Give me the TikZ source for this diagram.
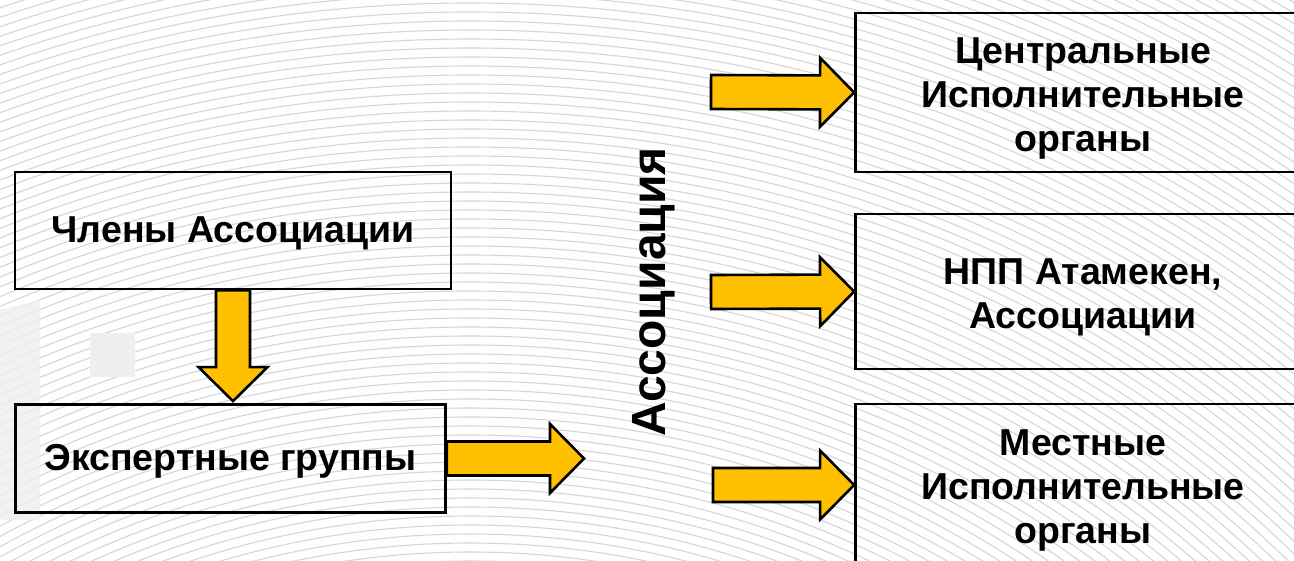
\documentclass[tikz,border=0pt]{standalone}
\usepackage{fontspec}
\setmainfont{Liberation Sans}
\usetikzlibrary{calc}
\definecolor{gold}{HTML}{FFC000}
\definecolor{bgline}{HTML}{D6D6D6}
\definecolor{ghost}{HTML}{EFEFEF}
\tikzset{
  box/.style={draw=black, line width=2.8pt, rectangle, inner sep=0pt},
  boxtext/.style={align=center, inner sep=0pt, font=\fontsize{37.5}{44}\selectfont\bfseries},
  arrowshape/.style={draw=black, line width=2.6pt, fill=gold, line join=miter},
  bigtitle/.style={font=\fontsize{48}{56}\selectfont\bfseries, inner sep=0pt},
}
\newcommand\blockarrow[2]{%
  \path (#1) coordinate (ba-s) (#2) coordinate (ba-t);
  \path ($(ba-t)!34pt!(ba-s)$) coordinate (ba-h);
  \draw[arrowshape] ($(ba-s)!17pt!90:(ba-t)$) -- ($(ba-h)!17pt!-90:(ba-s)$)
    -- ($(ba-h)!34.5pt!-90:(ba-s)$) -- (ba-t) -- ($(ba-h)!34.5pt!90:(ba-s)$)
    -- ($(ba-h)!17pt!90:(ba-s)$) -- ($(ba-s)!17pt!-90:(ba-t)$) -- cycle;}
\begin{document}
\begin{tikzpicture}[x=1pt, y=-1pt]
\useasboundingbox (0,0) rectangle (1294,560);
\clip (0,0) rectangle (1294,560);
\fill[white] (0,0) rectangle (1294,560);
% background texture
\foreach \r in {830,839,...,1640} {
  \draw[bgline, line width=1.1pt] (470,1400) circle[radius=\r];
}
% faint template shapes
\fill[ghost, opacity=0.8] (0,310) -- (40,300) -- (40,520) -- (0,520) -- cycle;
\fill[ghost] (90,333) rectangle (135,377);
% nodes
\node[box, minimum width=436pt, minimum height=117pt,
  label={[boxtext, yshift=-3pt]center:Члены Ассоциации}] (members) at (233,230.5) {};
\node[box, minimum width=430pt, minimum height=108pt,
  label={[boxtext, yshift=-3pt]center:Экспертные группы}] (experts) at (230.5,458.5) {};
\node[box, minimum width=455pt, minimum height=159pt,
  label={[boxtext, yshift=-6pt]center:{Центральные\\Исполнительные\\органы}}] (central) at (1083,92.5) {};
\node[box, minimum width=455pt, minimum height=155pt,
  label={[boxtext, yshift=-6pt]center:{НПП Атамекен,\\Ассоциации}}] (npp) at (1083,291.5) {};
\node[box, minimum width=455pt, minimum height=166pt,
  label={[boxtext, yshift=-3pt]center:{Местные\\Исполнительные\\органы}}] (local) at (1083,487) {};
\node[bigtitle, rotate=90] (assoc) at (654,292) {Ассоциация};
% free ends
\coordinate (expEnd) at (584,458.5);
\coordinate (tailA) at (711,92);
\coordinate (tailB) at (711,292);
\coordinate (tailC) at (713,485);
% arrows
\blockarrow{members.south}{$(experts.north)+(2.5,-2)$}
\blockarrow{experts.east}{expEnd}
\blockarrow{tailA}{central.west}
\blockarrow{tailB}{npp.west}
\blockarrow{tailC}{local.west |- tailC}
\end{tikzpicture}
\end{document}
